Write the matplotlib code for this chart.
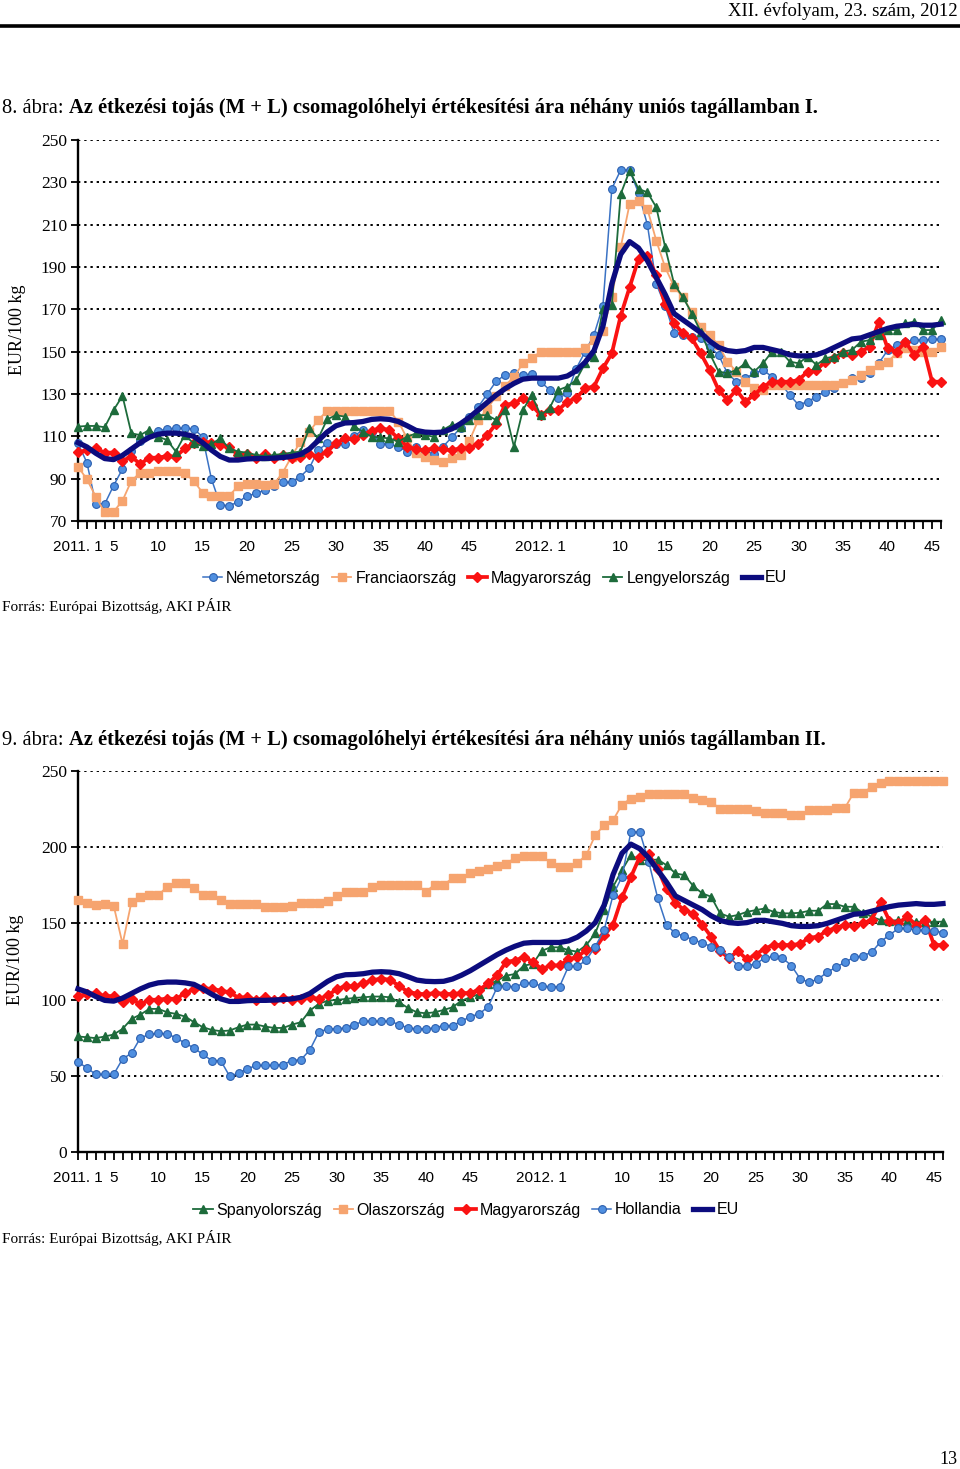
import matplotlib
matplotlib.use("Agg")
import matplotlib.pyplot as plt
from matplotlib.lines import Line2D

# ---------------- data ----------------
# 98 weekly observations: 2011 week 1..52, 2012 week 1..46
weeks = list(range(98))
tick_positions = [0, 4, 9, 14, 19, 24, 29, 34, 39, 44, 52, 61, 66, 71, 76, 81, 86, 91, 96]
tick_labels = ['2011. 1', '5', '10', '15', '20', '25', '30', '35', '40', '45',
               '2012. 1', '10', '15', '20', '25', '30', '35', '40', '45']

nemetorszag = [106.7, 97.6, 78, 78, 86.7, 94.6, 103, 108, 111, 112.5,
               113.5, 113.8, 113.8, 113.5, 109.8, 89.8, 77.6, 77.2, 79, 81.8,
               83, 84.6, 86.7, 88.3, 88.3, 91, 95, 103.5, 106.7, 106.5,
               106.4, 110, 113, 112, 106.4, 106.4, 105, 102.8, 105, 103,
               101.6, 105, 109.5, 114, 119, 124, 130, 136, 139, 139.8,
               139, 139.4, 135.8, 132, 128, 130.3, 142, 150, 158, 171.7,
               227, 235.8, 235.8, 225, 210, 182, 171.7, 158.7, 157.9, 157,
               156.3, 152.4, 148.4, 139.8, 135.8, 137.4, 139.8, 141.3, 138.2, 135,
               129.5, 124.8, 126.4, 128.7, 131.1, 132.7, 135, 137.4, 137.4, 139.8,
               144.5, 150.7, 153, 154.7, 155.5, 155.5, 155.8, 155.8]

franciaorszag = [95.7, 89.7, 81.5, 74.1, 74.4, 79.6, 89, 92.8, 92.8, 93.6,
                 93.6, 93.6, 92.5, 89, 83.4, 82, 82, 82, 86.5, 87.3,
                 87.3, 87, 87.3, 92.8, 100.4, 107.5, 112.2, 117.7, 122.1, 122.1,
                 122.1, 122.1, 122.1, 122.1, 122.1, 122.1, 117, 109, 102, 100.4,
                 98.8, 98, 100, 101, 108, 117.7, 123, 129, 134, 138,
                 144.5, 146.9, 150, 150, 150, 150, 150, 151.6, 155.5, 160,
                 175.7, 199.3, 219.8, 221, 217.4, 202.4, 189.8, 180.7, 175.7, 168.6,
                 161.8, 157.9, 153.1, 145.3, 140.6, 135.8, 133, 131.9, 134.3, 134.3,
                 134.3, 134.3, 134.3, 134.3, 134.3, 134.3, 135, 136.6, 139, 141.3,
                 143.7, 145.3, 149.2, 151.6, 150.8, 150, 150, 152.4]

magyarorszag = [102.4, 103.5, 104.3, 102.3, 102.3, 98.5, 100.4, 96.9, 99.9, 99.9,
                100.7, 100.4, 104.3, 106.7, 107.5, 107, 105.9, 104.8, 101.2, 101.7,
                99.6, 101.7, 99.6, 101.2, 99.9, 100.4, 101.5, 100.4, 102.8, 106.7,
                109, 108.6, 110.6, 112.7, 113.8, 113, 109, 105.1, 103.9, 103.5,
                104.3, 103.9, 103.5, 104.3, 104.3, 106.5, 110.6, 116, 124.8, 125.6,
                128, 124.8, 120, 122.4, 122.4, 126.4, 128, 132.7, 133.5, 142.1,
                149.2, 167, 180.4, 193.8, 195.3, 186, 172.5, 163.4, 158.7, 156.3,
                149.2, 141.3, 131.9, 127.2, 131.9, 126.4, 129.5, 133.5, 135.8, 135.8,
                135.8, 136.6, 140.6, 141.3, 145.3, 146.9, 149.2, 148.4, 150, 152.4,
                164, 151.6, 150, 154.7, 148.4, 152.4, 135.8, 135.8]

lengyelorszag = [114.6, 114.9, 114.9, 114.3, 122.4, 129.1, 111.4, 110.6, 113, 109.8,
                 108.3, 102.8, 110.6, 106.7, 105.4, 106.4, 109, 104.3, 102.8, 102.3,
                 101.2, 100.7, 101.2, 101.7, 102.3, 102.8, 113.8, 109, 118, 120,
                 119.3, 114.9, 112.2, 109.8, 109.5, 109, 107.5, 109.8, 111.4, 110.6,
                 109.8, 113, 115.4, 114.3, 117.7, 120, 120, 117.7, 122.4, 105.1,
                 122.4, 129.5, 120, 123.2, 131.9, 133.5, 136.6, 144.5, 147.7, 170.2,
                 172, 224.5, 235.5, 226.9, 225.3, 218.2, 199.3, 182, 175.7, 168,
                 159.4, 149.2, 140.6, 139.8, 141.3, 144.5, 140.6, 144.5, 150, 150,
                 145.3, 144.5, 147.7, 143.7, 146.9, 147.7, 150, 150.8, 154.7, 155.5,
                 157.9, 160.2, 160.2, 163.4, 164.2, 160.2, 160.2, 165]

eu = [107, 105, 102, 99.5, 99, 101, 104, 107, 109.5, 111,
      111.5, 111.5, 111, 110, 107, 103.5, 100.5, 98.8, 98.8, 99.3,
      99.5, 99.5, 99.7, 100, 100.5, 101.5, 104, 108, 112, 115,
      116.3, 116.5, 117, 118, 118.3, 118, 117, 115, 112.8, 112,
      111.8, 112, 113.5, 116, 119, 122.5, 126, 129.5, 132.5, 135,
      137, 137.5, 137.5, 137.5, 137.5, 138.5, 141, 145, 150.5, 162,
      182, 196, 202, 199, 193, 185, 177, 168, 165, 162,
      159, 155, 152, 150.5, 150, 150.5, 152, 152, 151, 150,
      148.5, 148, 148, 148.5, 150, 152, 154, 156, 156.5, 158,
      159.5, 161, 162, 162.5, 163, 162.5, 162.5, 163]

spanyolorszag = [75.8, 75.3, 74.7, 75.8, 77.1, 80.8, 87.3, 90.2, 93.9, 93.9,
                 91.7, 90.6, 88.9, 85.2, 81.9, 80.1, 79.3, 79.7, 81.9, 83.6,
                 83.6, 82.3, 81.4, 81.4, 83.6, 85.2, 92.8, 97.2, 99.3, 99.8,
                 100.4, 101.1, 101.5, 102, 102, 101.5, 98.3, 94.5, 91.7, 91,
                 91.7, 93.2, 95, 99.3, 101.5, 103.7, 110, 112.4, 115.7, 116.8,
                 122.3, 123.4, 132, 134.3, 134.3, 132.5, 131.4, 135.8, 143.4, 158.7,
                 174, 184.9, 194.8, 191.5, 191.5, 191.9, 188.2, 182.8, 181.7, 174.5,
                 169.7, 167.5, 156.6, 154.4, 155.5, 157.6, 158.7, 159.8, 157.6, 156.6,
                 156.6, 157, 158.3, 158.3, 162.7, 162.7, 160.9, 160.9, 157, 154.4,
                 152.2, 151.7, 152.2, 151.7, 151.1, 151.1, 151.1, 151.1]

olaszorszag = [165.3, 163.5, 162.4, 162.7, 161.6, 136.5, 164.2, 167.5, 168.6, 168.6,
               174, 176.2, 176.2, 173.4, 168.6, 168.6, 165.3, 162.7, 162.7, 162.7,
               162.7, 160.9, 160.9, 160.9, 161.4, 163.1, 163.1, 163.1, 164.8, 167.9,
               170.7, 170.7, 170.7, 174, 175.5, 175.5, 175.5, 175.5, 175.5, 170.7,
               175.5, 175.5, 179.5, 180.1, 183.2, 184.5, 186, 187.6, 188.9, 193.2,
               194.3, 194.3, 194.3, 189.7, 186.7, 186.7, 189.7, 194.8, 207.9, 214.4,
               217.7, 228, 231.9, 233, 234.7, 234.7, 234.7, 234.7, 234.7, 232.3,
               231.2, 229.7, 225.3, 225.3, 225.3, 225.3, 223.8, 222.5, 222.5, 222.5,
               221.4, 221.4, 224.2, 224.2, 224.2, 225.8, 225.8, 235.8, 235.8, 239.5,
               242.1, 243.2, 243.2, 243.2, 243.2, 243.2, 243.2, 243.2]

hollandia = [59, 55.2, 50.9, 50.9, 50.9, 61.1, 64.8, 74.9, 77.1, 77.9,
             77.5, 74.9, 71.4, 68.3, 64, 60, 60, 49.8, 51.7, 54.6,
             56.8, 56.8, 56.8, 57.4, 60, 60.5, 67, 78.6, 80.8, 80.8,
             81.4, 83.6, 85.8, 85.8, 85.8, 85.8, 83.6, 81.4, 80.8, 80.8,
             81.4, 83, 83, 85.8, 88.9, 90.6, 95.4, 108.1, 109.2, 108.1,
             110.9, 110.9, 108.7, 108.5, 108.5, 121.8, 121.8, 126, 134.7, 145.6,
             168.6, 180.6, 210, 210, 190.4, 166.8, 148.9, 143.4, 141.7, 139.1,
             137.3, 134.7, 132.5, 128.2, 122.3, 122.3, 123.4, 127.3, 128.4, 127.3,
             122.3, 113.5, 111.4, 113.5, 117.9, 121.2, 124.5, 127.7, 128.8, 131,
             138, 142.4, 146.7, 146.7, 145.6, 145.6, 145.2, 143.9]

legend1 = ['Németország', 'Franciaország', 'Magyarország', 'Lengyelország', 'EU']
legend2 = ['Spanyolország', 'Olaszország', 'Magyarország', 'Hollandia', 'EU']

title_num1 = '8. ábra: '
title_num2 = '9. ábra: '
title_rest1 = 'Az étkezési tojás (M + L) csomagolóhelyi értékesítési ára néhány uniós tagállamban I.'
title_rest2 = 'Az étkezési tojás (M + L) csomagolóhelyi értékesítési ára néhány uniós tagállamban II.'
header = 'XII. évfolyam, 23. szám, 2012'
source = 'Forrás: Európai Bizottság, AKI PÁIR'
ylabel = 'EUR/100 kg'
page_no = '13'

# ---------------- styles ----------------
SERIF = ['Liberation Serif', 'DejaVu Serif']
SANS = ['Liberation Sans', 'DejaVu Sans']

ST = {
    'blue': dict(color='#3a72c4', lw=1.1, marker='o', ms=5.6, mfc='#4f8fe0', mec='#2c5fae', mew=0.8),
    'orange': dict(color='#f6a46f', lw=1.3, marker='s', ms=5.3, mfc='#f6a46f', mec='#f6a46f'),
    'red': dict(color='#fa1212', lw=2.7, marker='D', ms=5.4, mfc='#fa1212', mec='#fa1212'),
    'green': dict(color='#1d6b3b', lw=1.3, marker='^', ms=6.0, mfc='#1d6b3b', mec='#1d6b3b'),
    'eu': dict(color='#0c0c7e', lw=3.8),
}

W, H = 960, 1469
fig = plt.figure(figsize=(W / 100, H / 100), dpi=100)


def fx(px):
    return px / W


def fy(py):
    return 1 - py / H


def make_axes(left, top, right, bottom, ymin, ymax, ystep):
    ax = fig.add_axes([fx(left), fy(bottom), fx(right) - fx(left), fy(top) - fy(bottom)])
    ax.set_xlim(0, 97)
    ax.set_ylim(ymin, ymax)
    ax.set_yticks(list(range(ymin, ymax + 1, ystep)))
    ax.set_xticks(weeks)
    labs = [''] * len(weeks)
    for p, l in zip(tick_positions, tick_labels):
        labs[p] = l
    ax.set_xticklabels(labs, family=SANS, fontsize=11)
    for lab in ax.get_yticklabels():
        lab.set_family(SERIF)
        lab.set_fontsize(12.5)
    for s in ['top', 'right']:
        ax.spines[s].set_visible(False)
    for s in ['left', 'bottom']:
        ax.spines[s].set_linewidth(1.7)
    ax.tick_params(axis='x', direction='out', length=5.5, width=1.3, pad=8)
    ax.tick_params(axis='y', direction='out', length=5, width=1.3, pad=3)
    ax.yaxis.grid(True, linestyle=(0, (1.2, 2.0)), color='black', lw=1.4)
    ax.set_axisbelow(True)
    return ax


def plot_series(ax, data, key, z):
    ax.plot(weeks, data, clip_on=False, zorder=z, **ST[key])


def handle(key):
    return Line2D([], [], **ST[key])


# header
fig.text(fx(958), fy(11), header, family=SERIF, fontsize=13.5, ha='right', va='center')
fig.add_artist(Line2D([0, 1], [fy(26), fy(26)], color='black', lw=2.6))

renderer = fig.canvas.get_renderer()


def title(y_base, num, rest):
    t1 = fig.text(fx(2), fy(y_base), num, family=SERIF, fontsize=14.8, ha='left', va='baseline')
    bb = t1.get_window_extent(renderer)
    fig.text(bb.x1 / W, fy(y_base), rest, family=SERIF, fontsize=14.8, weight='bold',
             ha='left', va='baseline')


# ---------- chart 1 ----------
title(113, title_num1, title_rest1)
ax1 = make_axes(78, 140, 941, 521, 70, 250, 20)
plot_series(ax1, nemetorszag, 'blue', 3)
plot_series(ax1, franciaorszag, 'orange', 4)
plot_series(ax1, magyarorszag, 'red', 5)
plot_series(ax1, lengyelorszag, 'green', 6)
plot_series(ax1, eu, 'eu', 7)
fig.text(fx(18), fy(330), ylabel, family=SERIF, fontsize=13, rotation=90, ha='center', va='center')
fig.legend([handle(k) for k in ['blue', 'orange', 'red', 'green', 'eu']], legend1,
           loc='center', bbox_to_anchor=(fx(495), fy(578)), ncol=5, frameon=False,
           prop={'family': SANS, 'size': 11.5}, handlelength=1.2, handletextpad=0.25,
           columnspacing=0.7)
fig.text(fx(2), fy(606), source, family=SERIF, fontsize=11, ha='left', va='center')

# ---------- chart 2 ----------
title(745, title_num2, title_rest2)
ax2 = make_axes(78, 771, 943, 1152, 0, 250, 50)
plot_series(ax2, spanyolorszag, 'green', 3)
plot_series(ax2, olaszorszag, 'orange', 4)
plot_series(ax2, magyarorszag, 'red', 5)
plot_series(ax2, hollandia, 'blue', 6)
plot_series(ax2, eu, 'eu', 7)
fig.text(fx(16), fy(960), ylabel, family=SERIF, fontsize=13, rotation=90, ha='center', va='center')
fig.legend([handle(k) for k in ['green', 'orange', 'red', 'blue', 'eu']], legend2,
           loc='center', bbox_to_anchor=(fx(466), fy(1210)), ncol=5, frameon=False,
           prop={'family': SANS, 'size': 11.5}, handlelength=1.2, handletextpad=0.25,
           columnspacing=0.7)
fig.text(fx(2), fy(1238), source, family=SERIF, fontsize=11, ha='left', va='center')

fig.text(fx(958), fy(1460), page_no, family=SERIF, fontsize=13, ha='right', va='center')

fig.savefig('out.png', dpi=100, facecolor='white')
